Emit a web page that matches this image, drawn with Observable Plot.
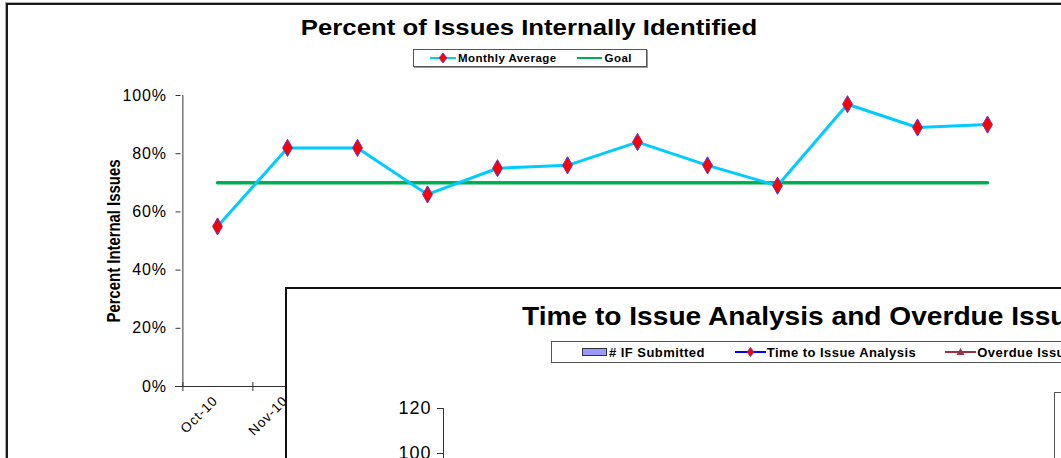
<!DOCTYPE html>
<html><head><meta charset="utf-8">
<script src="https://cdn.jsdelivr.net/npm/d3@7"></script>
<script src="https://cdn.jsdelivr.net/npm/@observablehq/plot@0.6"></script>
<style>
body{margin:0;background:#fff;}
#wrap{position:relative;width:1061px;height:458px;overflow:hidden;background:#fff;font-family:"Liberation Sans",Arial,sans-serif;color:#000;}
#frame{position:absolute;left:6px;top:3px;width:1200px;height:600px;border-left:2px solid #1a1a1a;border-top:2px solid #1a1a1a;box-shadow:-1px -1px 0 #aaa;}
#main{position:absolute;left:0;top:0;}
#main svg text{letter-spacing:0.9px;}
#title{position:absolute;left:0;width:1058px;top:15px;text-align:center;font-weight:bold;font-size:22px;transform:scaleX(1.17);transform-origin:529px 0;}
#legend{position:absolute;left:413px;top:49px;width:232px;height:16px;border:1px solid #555;box-shadow:1px 1px 0 #999;font-weight:bold;font-size:11.5px;letter-spacing:0.45px;display:flex;align-items:center;}
#legend span{display:inline-flex;align-items:center;}
#ytitle{position:absolute;left:114px;top:241px;transform:translate(-50%,-50%) rotate(-90deg) scaleX(0.85);white-space:nowrap;font-weight:bold;font-size:17.5px;}
#overlay{position:absolute;left:285px;top:287px;width:1000px;height:400px;border-left:2px solid #111;border-top:2px solid #111;background:#fff;}
#otitle{position:absolute;left:235px;top:13px;white-space:nowrap;font-weight:bold;font-size:25px;transform:scaleX(1.125);transform-origin:0 0;}
#olegend{position:absolute;left:264px;top:52px;width:700px;height:20px;border:1px solid #555;font-weight:bold;font-size:13px;letter-spacing:0.45px;display:flex;align-items:center;}
#olegend span{display:inline-flex;align-items:center;}
#obox{position:absolute;left:767px;top:103px;width:300px;height:200px;border:1px solid #555;box-shadow:1px 1px 0 #aaa;}
#oplot{position:absolute;left:0;top:0;}
#oplot svg text{letter-spacing:1px;}
</style></head><body>
<div id="wrap">
  <div id="frame"></div>
  <div id="main"></div>
  <div id="title">Percent of Issues Internally Identified</div>
  <div id="legend"></div>
  <div id="ytitle">Percent Internal Issues</div>
  <div id="overlay">
    <div id="oplot"></div>
    <div id="otitle">Time to Issue Analysis and Overdue Issues</div>
    <div id="olegend"></div>
    <div id="obox"></div>
  </div>
</div>
<script>
// ---- data: main chart ----
const months = ["Oct-10","Nov-10","Dec-10","Jan-11","Feb-11","Mar-11","Apr-11","May-11","Jun-11","Jul-11","Aug-11","Sep-11"];
const monthlyAverage = [0.55,0.82,0.82,0.66,0.75,0.76,0.84,0.76,0.69,0.97,0.89,0.90];
const goalValue = 0.70;
const yTicks = [0,0.2,0.4,0.6,0.8,1.0];
const seriesNames = ["Monthly Average","Goal"];
// ---- data: overlapping second chart ----
const overlaySeries = ["# IF Submitted","Time to Issue Analysis","Overdue Issues"];
const overlayTicks = [0,20,40,60,80,100,120];

const avgColor = "#00CCFF", dotFill = "#FF0000", dotStroke = "#6633CC", goalColor = "#00B050";

const data = months.map((m,i)=>({month:m, value:monthlyAverage[i]}));
const goalData = months.map(m=>({month:m, value:goalValue}));
const half = (1061-180-38)/months.length/2;

const main = Plot.plot({
  width:1061, height:458,
  marginLeft:180, marginRight:38, marginTop:95, marginBottom:72,
  style:{background:"transparent", fontFamily:"'Liberation Sans', Arial, sans-serif", color:"#000"},
  x:{type:"point", domain:months, padding:0.5},
  y:{domain:[0,1]},
  marks:[
    Plot.axisY(yTicks, {tickFormat:d3.format(".0%"), tickSize:5, tickPadding:9, fontSize:16, stroke:"#333", label:null, dx:0.5}),
    Plot.ruleX([months[0]], {dx:-half+0.5, y1:0, y2:1, stroke:"#333"}),
    Plot.ruleY([0], {insetLeft:-5, stroke:"#333"}),
    Plot.ruleX(months, {dx:-half+0.5, y1:0, y2:0, insetTop:-4, insetBottom:-5, stroke:"#333"}),
    Plot.axisX({tickRotate:-45, tickSize:0, tickPadding:12, dx:-2, fontSize:13.5, label:null}),
    Plot.line(goalData, {x:"month", y:"value", stroke:goalColor, strokeWidth:3.5}),
    Plot.line(data, {x:"month", y:"value", stroke:avgColor, strokeWidth:3}),
    Plot.dot(data, {x:"month", y:"value", symbol:"diamond", r:5.2, fill:dotFill, stroke:dotStroke, strokeWidth:1})
  ]
});
document.getElementById("main").appendChild(main);

// legend (main)
const lg = document.getElementById("legend");
lg.innerHTML = `
<span style="margin-left:16px"><svg width="26" height="12"><line x1="0" y1="6" x2="26" y2="6" stroke="${avgColor}" stroke-width="2"/><path d="M13,1 L17,6 L13,11 L9,6Z" fill="${dotFill}" stroke="${dotStroke}" stroke-width="0.8"/></svg></span>
<span style="margin-left:2px">${seriesNames[0]}</span>
<span style="margin-left:20px"><svg width="25" height="12"><line x1="0" y1="6" x2="25" y2="6" stroke="${goalColor}" stroke-width="2"/></svg></span>
<span style="margin-left:3px">${seriesNames[1]}</span>`;

// overlay chart
const oplot = Plot.plot({
  width:900, height:419,
  marginLeft:156, marginRight:20, marginTop:119, marginBottom:30,
  style:{background:"transparent", fontFamily:"'Liberation Sans', Arial, sans-serif", color:"#000"},
  y:{domain:[0,120]},
  marks:[
    Plot.axisY(overlayTicks, {tickSize:6, tickPadding:6, fontSize:18, stroke:"#333", label:null}),
    Plot.frame({anchor:"left", stroke:"#333"})
  ]
});
document.getElementById("oplot").appendChild(oplot);

const olg = document.getElementById("olegend");
olg.innerHTML = `
<span style="margin-left:30px"><svg width="25" height="10"><rect x="0.5" y="1.5" width="24" height="7" fill="#9999FF" stroke="#333" stroke-width="1"/></svg></span>
<span style="margin-left:2px">${overlaySeries[0]}</span>
<span style="margin-left:30px"><svg width="31" height="12"><line x1="0" y1="6" x2="31" y2="6" stroke="#0000FF" stroke-width="2"/><path d="M15.5,1.5 L19,6 L15.5,10.5 L12,6Z" fill="#FF0000" stroke="#6633CC" stroke-width="0.8"/></svg></span>
<span style="margin-left:1px">${overlaySeries[1]}</span>
<span style="margin-left:29px"><svg width="31" height="12"><line x1="0" y1="6" x2="31" y2="6" stroke="#993344" stroke-width="2"/><path d="M15.5,2 L19.5,9 L11.5,9Z" fill="#993344"/></svg></span>
<span style="margin-left:1px">${overlaySeries[2]}</span>`;
</script>
</body></html>
